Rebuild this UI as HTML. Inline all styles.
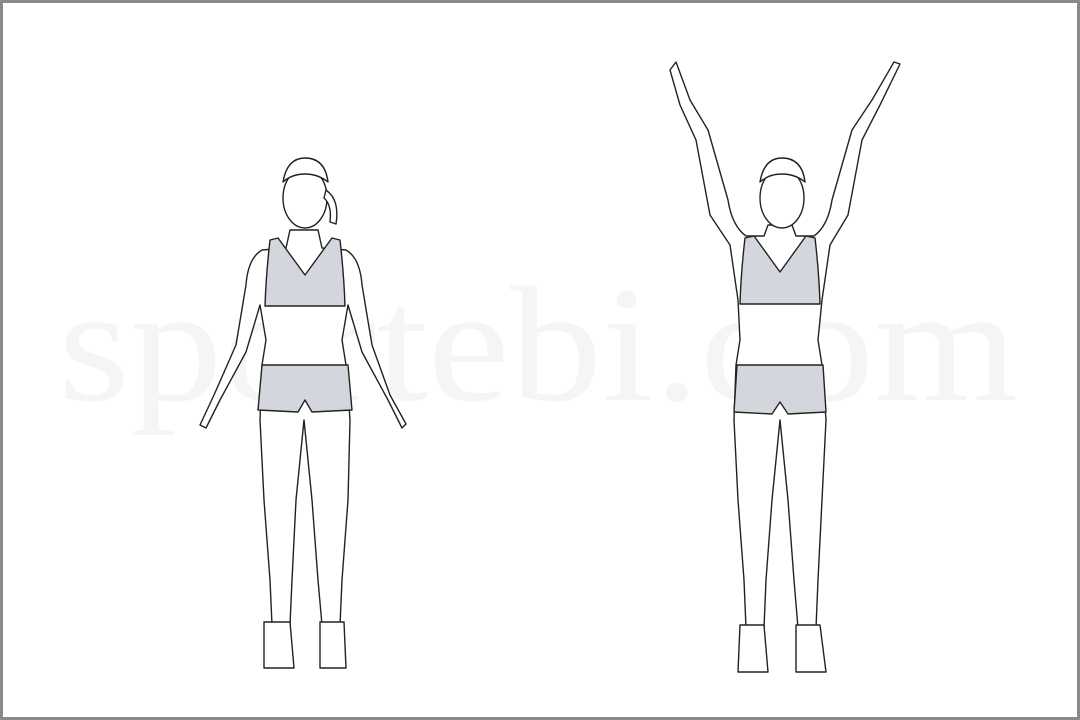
<!DOCTYPE html>
<html><head><meta charset="utf-8"><style>
html,body{margin:0;padding:0;background:#fff}
#wrap{width:1080px;height:720px;position:relative;overflow:hidden}
</style></head><body>
<div id="wrap">
<svg width="1080" height="720" viewBox="0 0 1080 720">
<rect x="1.5" y="1.5" width="1077" height="717" fill="#fff" stroke="#8a8a8a" stroke-width="3"/>
<text x="58" y="400" textLength="960" lengthAdjust="spacingAndGlyphs" font-family="Liberation Serif, serif" font-size="165" fill="#f5f5f5">sportebi.com</text>
<g fill="#fff" stroke="#222" stroke-width="1.4" stroke-linejoin="round">
 <path d="M290 230 L286 248 L262 250 Q248 258 246 285 L236 345 L214 395 L200 425 L206 428 L220 400 L246 352 L260 305 L266 340 L262 365 L260 420 L264 500 L270 580 L272 625 L290 625 L292 580 L296 500 L304 420 L312 500 L318 580 L322 625 L340 625 L342 580 L348 500 L350 420 L346 365 L342 340 L348 305 L362 352 L388 400 L402 428 L406 424 L390 395 L372 345 L362 285 Q360 258 346 250 L322 248 L318 230 Z"/>
 <path d="M270 240 L278 238 L305 275 L332 238 L340 240 Q344 275 345 306 L265 306 Q266 275 270 240 Z" fill="#d3d6dd"/>
 <path d="M262 365 L348 365 L352 410 L312 412 L305 400 L298 412 L258 410 Z" fill="#d3d6dd"/>
 <ellipse cx="305" cy="198" rx="22" ry="30"/>
 <path d="M283 182 Q287 158 305 158 Q325 158 328 182 Q318 174 305 174 Q292 174 283 182 Z"/>
 <path d="M326 190 Q340 200 336 224 L330 222 Q332 205 324 198 Z"/>
 <path d="M264 622 L290 622 L294 668 L264 668 Z"/>
 <path d="M320 622 L344 622 L346 668 L320 668 Z"/>
</g>
<g fill="#fff" stroke="#222" stroke-width="1.4" stroke-linejoin="round">
 <path d="M768 225 L764 236 L746 236 Q732 226 728 200 L708 130 L690 100 L676 62 L670 70 L680 105 L696 140 L710 215 L730 245 L738 300 L740 340 L736 365 L734 420 L738 500 L744 580 L746 628 L764 628 L766 580 L772 500 L780 420 L788 500 L794 580 L798 628 L816 628 L818 580 L822 500 L826 420 L822 365 L818 340 L822 300 L830 245 L848 215 L862 140 L880 105 L900 64 L894 62 L872 100 L852 130 L832 200 Q828 226 814 236 L796 236 L792 225 Z"/>
 <path d="M745 238 L754 236 L780 272 L806 236 L815 238 Q819 272 820 304 L740 304 Q741 272 745 238 Z" fill="#d3d6dd"/>
 <path d="M737 365 L823 365 L826 412 L788 414 L780 402 L772 414 L734 412 Z" fill="#d3d6dd"/>
 <ellipse cx="782" cy="198" rx="22" ry="30"/>
 <path d="M760 182 Q764 158 782 158 Q802 158 805 182 Q795 174 782 174 Q769 174 760 182 Z"/>
 <path d="M740 625 L764 625 L768 672 L738 672 Z"/>
 <path d="M796 625 L820 625 L826 672 L796 672 Z"/>
</g>
</svg>
</div>
</body></html>
